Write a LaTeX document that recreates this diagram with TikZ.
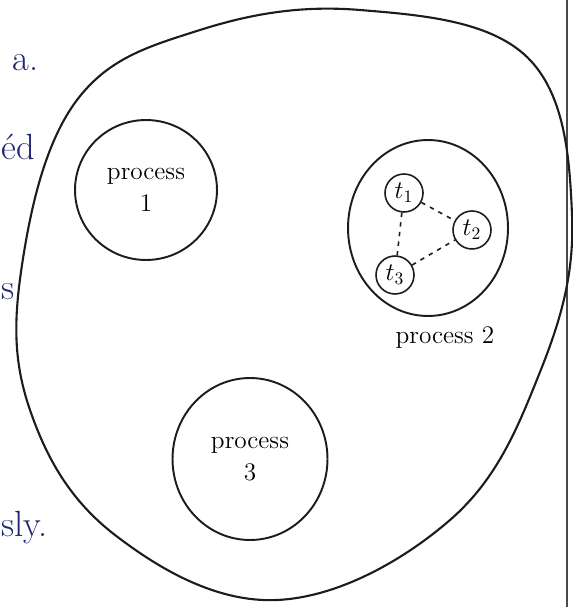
\documentclass[tikz,border=0pt]{standalone}
\usepackage{amsmath,amssymb}
\usepackage{tikz}
\usetikzlibrary{positioning,shapes.geometric}
\definecolor{pencil}{RGB}{28,28,30}
\definecolor{inkblue}{RGB}{30,38,112}

\begin{document}
\begin{tikzpicture}[x=0.02cm, y=-0.02cm,
  procbox/.style={draw=pencil, ellipse, line width=1.1pt, align=center, font=\Large, inner sep=0pt},
  thread/.style={draw=pencil, circle, line width=0.9pt, minimum size=0.76cm, inner sep=0pt, font=\Large},
  link/.style={pencil, line width=0.9pt, dash pattern=on 2.5pt off 3pt},
  scrap/.style={anchor=west, inner sep=0pt, text=inkblue, font=\huge}]
  \useasboundingbox (0,0) rectangle (573,607);

  % Page margin and cut-off words
  \draw [pencil!80, line width=0.6pt] (567,0) -- (567,607);
  \node [scrap] (w1) at (12,63) {a.};
  \node [scrap] (w2) at (1,147) {\'ed};
  \node [scrap] (w3) at (1,292) {s};
  \node [scrap] (w4) at (1,528) {sly.};

  % Outer boundary
  \draw [pencil, line width=1.2pt] plot [smooth cycle, tension=0.65] coordinates {
    (360,10) (527,57) (572,215) (540,372) (450,520) (277,600) (115,535)
    (30,410) (22,265) (77,100) (200,30)};

  % Nodes
  \node [procbox, minimum width=2.84cm, minimum height=2.8cm] (p1) at (146,190) {process\\1};
  \node [procbox, minimum width=3.2cm, minimum height=3.52cm] (p2) at (428,228) {};
  \node [procbox, minimum width=3.1cm, minimum height=3.24cm] (p3) at (250,459) {process\\3};
  \node [font=\Large, below=2pt of p2, xshift=0.34cm] (p2lab) {process 2};

  \node [thread] (t1) at (404,193) {$t_1$};
  \node [thread] (t2) at (472,230) {$t_2$};
  \node [thread] (t3) at (395,275) {$t_3$};

  % Links
  \draw [link] (t1) -- (t2);
  \draw [link] (t1) -- (t3);
  \draw [link] (t3) -- (t2);
\end{tikzpicture}
\end{document}
